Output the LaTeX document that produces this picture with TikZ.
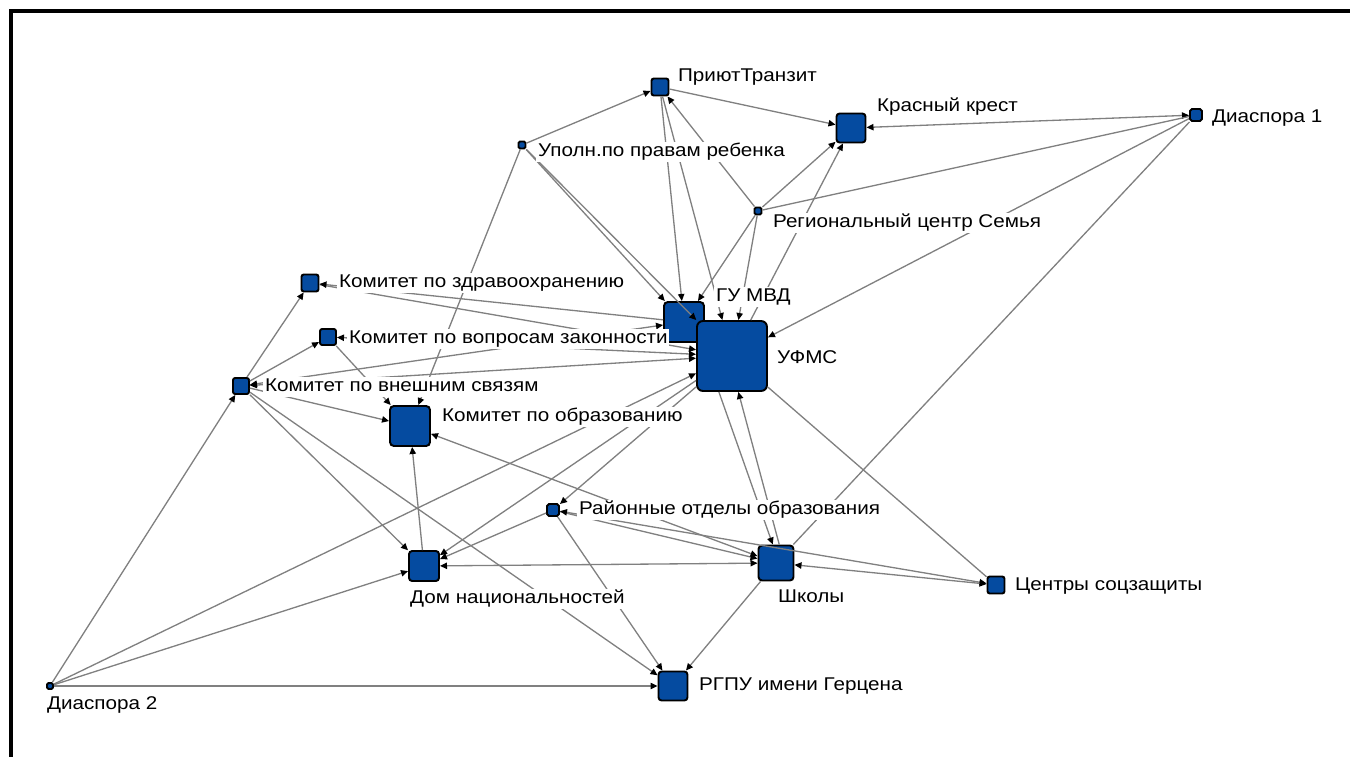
\documentclass[tikz,border=0pt]{standalone}
\usepackage{fontspec}
\setmainfont{Liberation Sans}[FakeStretch=1.12]
\usetikzlibrary{positioning,arrows.meta}
\definecolor{actorblue}{RGB}{5,75,160}
\definecolor{linkgray}{RGB}{128,128,128}
\tikzset{
  actor/.style={draw=black, line width=1.1pt, fill=actorblue, rounded corners=0.6pt+#1*0.04pt,
    minimum size=#1*0.02cm, inner sep=0pt},
  link/.style={draw=linkgray, line width=0.75pt, ->},
  lbl/.style={fill=white, inner sep=1pt, anchor=west, text height=7.6pt, text depth=2pt,
    font=\fontsize{10.5}{12}\selectfont},
  >={Triangle[length=4pt,width=3.6pt,color=black]}
}

\begin{document}
\begin{tikzpicture}[x=0.02cm, y=-0.02cm]
\useasboundingbox (0,0) rectangle (1350,757);
\draw[line width=1.8pt] (11,757) -- (11,11) -- (1350,11);
\node[actor=17] (priyut) at (660,87) {};
\node[actor=29] (kk) at (851,128) {};
\node[actor=12] (d1) at (1196,115) {};
\node[actor=7] (upoln) at (522,145) {};
\node[actor=7] (region) at (758,211) {};
\node[actor=17] (kzdrav) at (310,283) {};
\node[actor=16] (kzakon) at (328,337) {};
\node[actor=16] (kvnesh) at (241,386) {};
\node[actor=40] (kobraz) at (410,426) {};
\node[actor=40] (gumvd) at (684,322) {};
\node[actor=70] (ufms) at (732,356) {};
\node[actor=12] (rayon) at (553,510) {};
\node[actor=30] (dom) at (424,566) {};
\node[actor=35] (shkoly) at (776,563) {};
\node[actor=17] (csz) at (996,585) {};
\node[actor=29] (rgpu) at (673,686) {};
\node[actor=6] (d2) at (50,686) {};

\draw[link] (upoln) -- (priyut);
\draw[link] (priyut) -- (kk);
\draw[link,<->] (kk) -- (d1);
\draw[link] (region) -- (kk);
\draw[link] (region) -- (priyut);
\draw[link,-] (region) -- (d1);
\draw[link] (region) -- (gumvd);
\draw[link] (region) -- (ufms);
\draw[link] (ufms) -- (kk);
\draw[link] (priyut) -- (gumvd);
\draw[link] (priyut) -- (ufms);
\draw[link] (upoln) -- (gumvd);
\draw[link] (upoln) -- (ufms);
\draw[link] (upoln) -- (kobraz);
\draw[link] (d1) -- (ufms);
\draw[link,-] (shkoly) -- (d1);
\draw[link,-] (ufms) -- (csz);
\draw[link] (kvnesh) -- (kzdrav);
\draw[link] (kvnesh) -- (kzakon);
\draw[link] (kvnesh) -- (kobraz);
\draw[link] (d2) -- (kvnesh);
\draw[link] (kvnesh) -- (dom);
\draw[link] (kvnesh) -- (rgpu);
\draw[link,<->] (kvnesh) -- (ufms);
\draw[link,<->] (kvnesh) -- (gumvd);
\draw[link] (kzdrav) -- (ufms);
\draw[link] (gumvd) -- (kzdrav);
\draw[link,<->] (kzakon) -- (ufms);
\draw[link] (kzakon) -- (kobraz);
\draw[link] (dom) -- (kobraz);
\draw[link] (d2) -- (dom);
\draw[link] (d2) -- (rgpu);
\draw[link] (d2) -- (ufms);
\draw[link] (rayon) -- (dom);
\draw[link] (rayon) -- (rgpu);
\draw[link] (rayon) -- (shkoly);
\draw[link,<->] (rayon) -- (csz);
\draw[link,<->] (dom) -- (shkoly);
\draw[link] (ufms.-110) -- (shkoly.100);
\draw[link] (shkoly.80) -- (ufms.-80);
\draw[link] (shkoly) -- (rgpu);
\draw[link,<->] (csz) -- (shkoly);
\draw[link,<->] (kobraz) -- (shkoly);
\draw[link] (ufms) -- (dom);
\draw[link] (ufms) -- (rayon);

\node[lbl] (priyutl) at (676,77) {ПриютТранзит};
\node[lbl] (kkl) at (875,107) {Красный крест};
\node[lbl] (d1l) at (1210,118) {Диаспора 1};
\node[lbl] (upolnl) at (536,152) {Уполн.по правам ребенка};
\node[lbl] (regionl) at (771,223) {Региональный центр Семья};
\node[lbl] (kzdravl) at (337,283) {Комитет по здравоохранению};
\node[lbl] (kzakonl) at (347,339) {Комитет по вопросам законности};
\node[lbl] (kvneshl) at (263,387) {Комитет по внешним связям};
\node[lbl] (kobrazl) at (440,417) {Комитет по образованию};
\node[lbl] (gumvdl) at (714,297) {ГУ МВД};
\node[lbl] (ufmsl) at (775,359) {УФМС};
\node[lbl] (rayonl) at (577,510) {Районные отделы образования};
\node[lbl] (doml) at (408,599) {Дом национальностей};
\node[lbl] (shkolyl) at (776,598) {Школы};
\node[lbl] (cszl) at (1013,586) {Центры соцзащиты};
\node[lbl] (rgpul) at (697,686) {РГПУ имени Герцена};
\node[lbl] (d2l) at (45,705) {Диаспора 2};
\end{tikzpicture}
\end{document}
